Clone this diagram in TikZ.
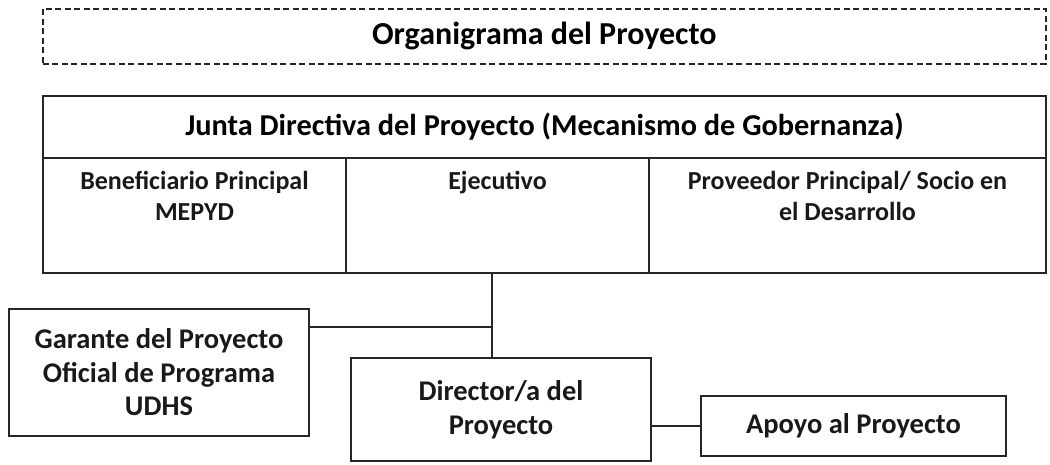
\documentclass[tikz,border=0pt]{standalone}
\usepackage{fontspec}
\setmainfont{Carlito}
\usetikzlibrary{calc,positioning}

\tikzset{
  orgbox/.style={draw=black!85, line width=2pt, rectangle, inner sep=0pt},
  orgtext/.style={font=\bfseries\fontsize{28.5}{33.5}\selectfont, align=center, text=black!90},
  celltext/.style={font=\bfseries\fontsize{26}{31}\selectfont, align=center, text=black!90, anchor=north},
}

\begin{document}
\begin{tikzpicture}[x=1pt, y=-1pt]
    % Fix the canvas to the reference size
    \useasboundingbox (0,0) rectangle (1050,465);

    % Title in a dashed frame
    \node[draw=black!85, line width=1.6pt, dash pattern=on 6pt off 3.5pt, minimum width=1003pt, minimum height=55pt, anchor=north west,
          font=\bfseries\fontsize{32}{36}\selectfont] (titulo) at (42,8) {Organigrama del Proyecto};

    % Board: header row and three cells
    \node[orgbox, minimum width=1003pt, minimum height=62pt, anchor=north west,
          font=\bfseries\fontsize{30.3}{34}\selectfont] (junta) at (42,95) {Junta Directiva del Proyecto (Mecanismo de Gobernanza)};
    \node[orgbox, minimum width=303pt, minimum height=115pt, anchor=north west] (benef) at (42,157) {};
    \node[orgbox, minimum width=303pt, minimum height=115pt, anchor=north west] (ejec) at (345,157) {};
    \node[orgbox, minimum width=397pt, minimum height=115pt, anchor=north west] (prov) at (648,157) {};

    % Cell texts, hung from the top of each cell
    \node[celltext] (tbenef) at ($(benef.north)+(0,11)$) {Beneficiario Principal\\MEPYD};
    \node[celltext] (tejec) at ($(ejec.north)+(0,11)$) {Ejecutivo};
    \node[celltext] (tprov) at ($(prov.north)+(0,11)$) {Proveedor Principal/ Socio en\\el Desarrollo};

    % Lower boxes
    \node[orgbox, orgtext, minimum width=300pt, minimum height=127pt, anchor=north west] (garante) at (8,308)
        {Garante del Proyecto\\Oficial de Programa\\UDHS};
    \node[orgbox, orgtext, minimum width=300pt, minimum height=103pt, anchor=north west] (director) at (350,357)
        {Director/a del\\Proyecto};
    \node[orgbox, orgtext, minimum width=305pt, minimum height=60pt, anchor=north west] (apoyo) at (700,395)
        {Apoyo al Proyecto};

    % Connectors
    \coordinate (cruce) at ($(ejec.south)+(-6,53)$);
    \draw[black!85, line width=2pt] (ejec.south -| cruce) -- (cruce |- director.north);
    \draw[black!85, line width=2pt] (garante.east |- cruce) -- (cruce);
    \draw[black!85, line width=2pt] (director.east |- apoyo.west) -- (apoyo.west);

\end{tikzpicture}
\end{document}
